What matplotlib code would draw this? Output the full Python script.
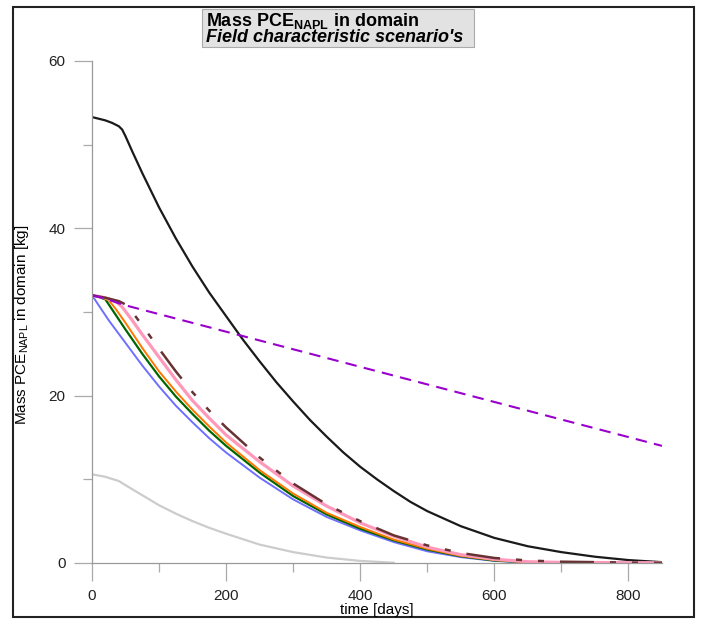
import matplotlib
matplotlib.use("Agg")
import matplotlib.pyplot as plt
from matplotlib.patches import Rectangle
from matplotlib.ticker import MultipleLocator

plt.rcParams['font.family'] = ['Liberation Sans', 'DejaVu Sans']
plt.rcParams['mathtext.fontset'] = 'custom'
plt.rcParams['mathtext.rm'] = 'Liberation Sans'
plt.rcParams['mathtext.bf'] = 'Liberation Sans:bold'
plt.rcParams['mathtext.it'] = 'Liberation Sans:italic'

# data (time in days, mass in kg)
t_black = [0, 10, 20, 30, 40, 45, 50, 60, 75, 100, 125, 150, 175, 200, 225, 250, 275, 300, 325, 350,
           375, 400, 425, 450, 475, 500, 550, 600, 650, 700, 750, 800, 850]
black   = [53.3, 53.1, 52.9, 52.6, 52.2, 51.8, 51.0, 49.2, 46.6, 42.5, 38.8, 35.4, 32.3, 29.5, 26.7, 24.1,
           21.6, 19.3, 17.1, 15.1, 13.2, 11.5, 10.0, 8.6, 7.3, 6.2, 4.4, 3.0, 2.0, 1.3, 0.75, 0.35, 0.1]

t_purple = [0, 20, 45, 850]
purple   = [32.0, 31.6, 30.9, 14.0]

t_blue = [0, 10, 25, 50, 75, 100, 125, 150, 175, 200, 250, 300, 350, 400, 450, 500, 550, 600, 650, 700]
blue   = [32.0, 30.8, 29.0, 26.3, 23.6, 21.1, 18.8, 16.8, 14.9, 13.2, 10.2, 7.6, 5.5, 3.9, 2.5, 1.4, 0.7, 0.25, 0.05, 0.0]

t_green = [0, 10, 20, 30, 50, 75, 100, 125, 150, 175, 200, 250, 300, 350, 400, 450, 500, 550, 600, 650, 700]
green   = [32.0, 31.8, 31.5, 30.3, 27.9, 25.0, 22.3, 19.9, 17.8, 15.8, 14.0, 10.8, 8.0, 5.8, 4.1, 2.7, 1.6, 0.8, 0.3, 0.07, 0.0]

t_orange = [0, 15, 25, 35, 50, 75, 100, 125, 150, 175, 200, 250, 300, 350, 400, 450, 500, 550, 600, 650, 700]
orange   = [32.0, 31.7, 31.4, 30.4, 28.7, 25.7, 22.9, 20.5, 18.3, 16.3, 14.4, 11.1, 8.3, 6.0, 4.3, 2.8, 1.7, 0.85, 0.35, 0.08, 0.0]

t_pink = [0, 20, 35, 45, 60, 75, 100, 125, 150, 175, 200, 250, 300, 350, 400, 450, 500, 550, 600, 650, 700, 850]
pink   = [32.0, 31.7, 31.3, 30.6, 29.0, 27.3, 24.6, 21.9, 19.4, 17.3, 15.3, 12.1, 9.2, 6.8, 4.8, 3.2, 1.9, 1.0,
          0.45, 0.15, 0.07, 0.03]

t_brown = [0, 20, 40, 50, 60, 75, 100, 125, 150, 175, 200, 250, 300, 350, 400, 450, 500, 550, 600, 650,
           700, 750, 800, 850]
brown   = [32.0, 31.7, 31.3, 30.9, 30.0, 28.4, 25.6, 22.9, 20.4, 18.2, 16.2, 12.6, 9.5, 7.0, 5.0, 3.3, 2.1, 1.2,
           0.6, 0.3, 0.15, 0.1, 0.05, 0.02]

t_gray = [0, 20, 40, 50, 75, 100, 125, 150, 175, 200, 250, 300, 350, 400, 450]
gray   = [10.6, 10.3, 9.8, 9.3, 8.1, 6.9, 5.9, 5.0, 4.2, 3.5, 2.2, 1.3, 0.65, 0.25, 0.03]

W, H = 701, 621
fig = plt.figure(figsize=(W / 100, H / 100), dpi=100)
ax = fig.add_axes([92 / W, 1 - 563 / H, (662 - 92) / W, (563 - 61) / H])

ax.plot(t_gray, gray, color='#cccccc', lw=1.6)
ax.plot(t_black, black, color='#1a1a1a', lw=1.6)
ax.plot(t_blue, blue, color='#6f6fff', lw=1.4)
ax.plot(t_green, green, color='#006600', lw=1.6)
ax.plot(t_orange, orange, color='#ff7700', lw=1.4)
ax.plot(t_pink, pink, color='#ff99bb', lw=2.3)
ax.plot(t_brown, brown, color='#663333', lw=1.8, dashes=(13.6, 6.4, 2.4, 6.4, 2.4, 6.4))
ax.plot(t_purple, purple, color='#9900cc', lw=1.5, dashes=(5.5, 3.5))

ax.set_xlim(0, 850)
ax.set_ylim(0, 60)
ax.xaxis.set_major_locator(MultipleLocator(200))
ax.xaxis.set_minor_locator(MultipleLocator(100))
ax.yaxis.set_major_locator(MultipleLocator(20))
ax.yaxis.set_minor_locator(MultipleLocator(10))

for s in ['top', 'right']:
    ax.spines[s].set_visible(False)
for s in ['left', 'bottom']:
    ax.spines[s].set_color('#999999')
    ax.spines[s].set_linewidth(0.9)
ax.tick_params(which='major', length=13, width=0.9, color='#aaaaaa', labelsize=11, pad=6, labelcolor='#222222')
ax.tick_params(which='minor', length=6.5, width=0.9, color='#aaaaaa')

fig.text(377 / W, 1 - 610 / H, 'time [days]', ha='center', va='center', fontsize=11)
fig.text(22 / W, 1 - 325 / H, r'Mass PCE$_{\mathrm{NAPL}}$ in domain [kg]',
         rotation=90, ha='center', va='center', fontsize=11)

# outer frame
fig.patches.append(Rectangle((13 / W, 1 - 617 / H), (694 - 13) / W, (617 - 7) / H,
                             transform=fig.transFigure, fill=False, ec='#222222', lw=1.5))
# title box
fig.patches.append(Rectangle((202 / W, 1 - 47 / H), (474 - 202) / W, (47 - 9) / H,
                             transform=fig.transFigure, fc='#e2e2e2', ec='#aaaaaa', lw=0.8))
fig.text(206 / W, 1 - 21 / H, r'Mass PCE$_{\mathbf{NAPL}}$ in domain',
         ha='left', va='center', fontsize=13, fontweight='bold')
fig.text(206 / W, 1 - 38 / H, "Field characteristic scenario's",
         ha='left', va='center', fontsize=13, fontweight='bold', fontstyle='italic')

fig.savefig('out.png', dpi=100)
